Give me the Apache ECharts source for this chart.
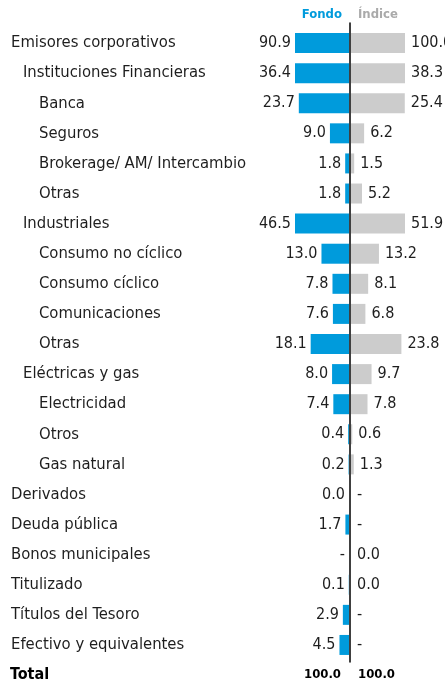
<!DOCTYPE html>
<html>
<head>
<meta charset="utf-8">
<script src="https://cdn.jsdelivr.net/npm/echarts@6/dist/echarts.min.js"></script>
<style>
  html, body { margin: 0; padding: 0; background: #fff; }
  #chart { width: 445px; height: 685px; }
</style>
</head>
<body>
<div id="chart"></div>
<script>
const categories = [
  'Emisores corporativos', 'Instituciones Financieras', 'Banca', 'Seguros',
  'Brokerage/ AM/ Intercambio', 'Otras', 'Industriales', 'Consumo no cíclico',
  'Consumo cíclico', 'Comunicaciones', 'Otras', 'Eléctricas y gas', 'Electricidad',
  'Otros', 'Gas natural', 'Derivados', 'Deuda pública', 'Bonos municipales',
  'Titulizado', 'Títulos del Tesoro', 'Efectivo y equivalentes'
];
const levels = [0, 1, 2, 2, 2, 2, 1, 2, 2, 2, 2, 1, 2, 2, 2, 0, 0, 0, 0, 0, 0];
const fondo = [90.9, 36.4, 23.7, 9.0, 1.8, 1.8, 46.5, 13.0, 7.8, 7.6, 18.1, 8.0, 7.4, 0.4, 0.2, 0.0, 1.7, null, 0.1, 2.9, 4.5];
const indice = [100.0, 38.3, 25.4, 6.2, 1.5, 5.2, 51.9, 13.2, 8.1, 6.8, 23.8, 9.7, 7.8, 0.6, 1.3, null, null, 0.0, 0.0, null, null];
const totalFondo = 100.0;
const totalIndice = 100.0;

const FONT = '"DejaVu Sans Condensed", sans-serif';
const BLUE = '#009bdc';
const GREY = '#cccccc';
const TEXT = '#1e1e1e';
const AXIS_MAX = 25.5;
const LABEL_SIZE = 16.5;

// nulls are shown as "-" with no bar
function toData(arr) {
  return arr.map((v) => v === null
    ? { value: 0, label: { formatter: '-' } }
    : v);
}

const chart = echarts.init(document.getElementById('chart'), null, { renderer: 'canvas' });

const option = {
  animation: false,
  backgroundColor: '#fff',
  textStyle: { fontFamily: FONT },
  title: [
    { text: 'Fondo', right: 445 - 342, top: 8, padding: 0,
      textStyle: { color: BLUE, fontSize: 13, fontWeight: 'bold', fontFamily: FONT } },
    { text: 'Índice', left: 358, top: 8, padding: 0,
      textStyle: { color: '#aaaaaa', fontSize: 13, fontWeight: 'bold', fontFamily: FONT } }
  ],
  grid: [
    { left: 295, width: 54, top: 28, bottom: 25, outerBoundsMode: 'none' },
    { left: 351, width: 54, top: 28, bottom: 25, outerBoundsMode: 'none' },
    { left: 350, width: 10, top: 23, bottom: 23, outerBoundsMode: 'none' }
  ],
  xAxis: [
    { gridIndex: 0, type: 'value', min: 0, max: AXIS_MAX, inverse: true, show: false },
    { gridIndex: 1, type: 'value', min: 0, max: AXIS_MAX, show: false },
    { gridIndex: 2, type: 'value', show: false }
  ],
  yAxis: [
    {
      gridIndex: 0, type: 'category', data: categories, inverse: true,
      axisLine: { show: false }, axisTick: { show: false },
      axisLabel: {
        align: 'left', margin: 284, fontSize: LABEL_SIZE, color: TEXT, fontFamily: FONT,
        formatter: (v, i) => '{l' + levels[i] + '|' + v + '}',
        rich: {
          l0: { fontSize: LABEL_SIZE, color: TEXT, fontFamily: FONT, padding: [0, 0, 0, 0] },
          l1: { fontSize: LABEL_SIZE, color: TEXT, fontFamily: FONT, padding: [0, 0, 0, 12] },
          l2: { fontSize: LABEL_SIZE, color: TEXT, fontFamily: FONT, padding: [0, 0, 0, 28] }
        }
      }
    },
    {
      gridIndex: 1, type: 'category', data: categories, inverse: true,
      axisLine: { show: false }, axisTick: { show: false }, axisLabel: { show: false }
    },
    {
      gridIndex: 2, type: 'value', z: 5,
      axisLine: { show: true, lineStyle: { color: '#000', width: 1.5 } },
      axisTick: { show: false }, axisLabel: { show: false }, splitLine: { show: false }
    }
  ],
  series: [
    {
      name: 'Fondo', type: 'bar', xAxisIndex: 0, yAxisIndex: 0,
      data: toData(fondo), barWidth: 20, clip: true,
      itemStyle: { color: BLUE },
      label: {
        show: true, position: 'left', distance: 4, fontSize: 16, color: TEXT, fontFamily: FONT,
        formatter: (p) => p.value.toFixed(1)
      }
    },
    {
      name: 'Índice', type: 'bar', xAxisIndex: 1, yAxisIndex: 1,
      data: toData(indice), barWidth: 20, clip: true,
      itemStyle: { color: GREY },
      label: {
        show: true, position: 'right', distance: 6, fontSize: 16, color: TEXT, fontFamily: FONT,
        formatter: (p) => p.value.toFixed(1)
      }
    }
  ],
  graphic: [
    { type: 'text', left: 10, top: 667,
      style: { text: 'Total', fontSize: 16, fontWeight: 'bold', fill: '#000', fontFamily: FONT } },
    { type: 'text', right: 445 - 341, top: 668,
      style: { text: totalFondo.toFixed(1), fontSize: 13, fontWeight: 'bold', fill: '#000', fontFamily: FONT } },
    { type: 'text', left: 358, top: 668,
      style: { text: totalIndice.toFixed(1), fontSize: 13, fontWeight: 'bold', fill: '#000', fontFamily: FONT } }
  ]
};

chart.setOption(option);
</script>
</body>
</html>
